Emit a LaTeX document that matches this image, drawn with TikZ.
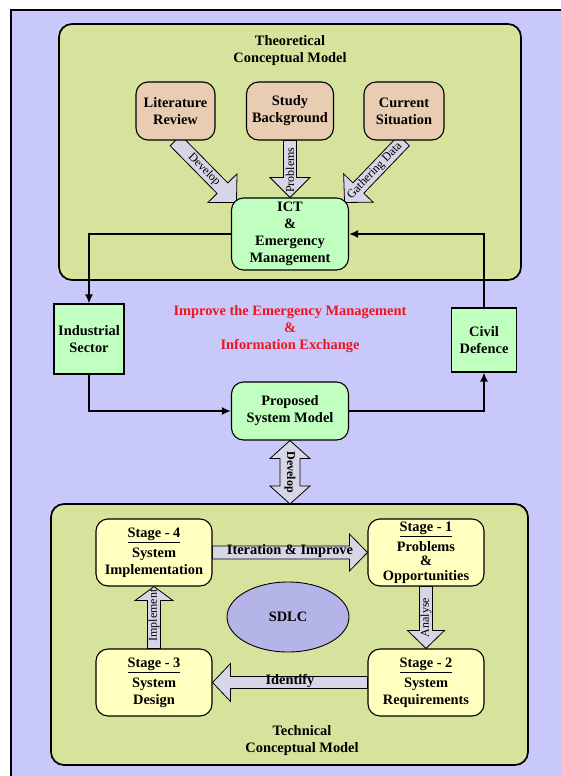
\documentclass[tikz,border=0pt]{standalone}
\usepackage{fontspec}
\setmainfont{Liberation Serif}
\usetikzlibrary{calc,arrows.meta,shapes.geometric,backgrounds}

\definecolor{lavbg}{RGB}{200,200,250}
\definecolor{olivebox}{RGB}{215,226,156}
\definecolor{tanbox}{RGB}{232,205,178}
\definecolor{mintbox}{RGB}{192,255,192}
\definecolor{creambox}{RGB}{255,255,192}
\definecolor{arrowgrey}{RGB}{214,214,230}
\definecolor{sdlcfill}{RGB}{180,180,232}
\definecolor{goalred}{RGB}{240,20,30}

\tikzset{
  bigfont/.style={font=\bfseries\fontsize{14.4}{17}\selectfont},
  container/.style={draw, line width=1.7pt, rounded corners=13pt, fill=olivebox},
  title/.style={bigfont, align=center},
  box/.style={draw, line width=1.1pt, inner sep=0pt, align=center, bigfont},
  topbox/.style={box, rounded corners=12pt, fill=tanbox, minimum height=58pt},
  greenbox/.style={box, rounded corners=12pt, fill=mintbox},
  sqbox/.style={box, fill=mintbox},
  stagebox/.style={box, rounded corners=12pt, fill=creambox, minimum width=116pt, minimum height=67pt},
  blockarrow/.style={draw, line width=0.8pt, fill=arrowgrey, line join=miter},
  arrowlabel/.style={inner sep=0pt, font=\fontsize{12}{14}\selectfont},
  boldlabel/.style={inner sep=0pt, bigfont},
  flow/.style={line width=1.6pt, -{Latex[length=9pt,width=8pt]}}
}

% block arrow: from, to, shaft half width, head half width, head length
\newcommand{\blockarrow}[5]{%
  \coordinate (ba-b) at ($(#2)!#5!(#1)$);
  \draw[blockarrow] ($(#1)!#3!90:(#2)$) -- ($(ba-b)!#3!90:(#2)$) -- ($(ba-b)!#4!90:(#2)$)
    -- (#2) -- ($(ba-b)!#4!-90:(#2)$) -- ($(ba-b)!#3!-90:(#2)$) -- ($(#1)!#3!-90:(#2)$) -- cycle;}
% same with a head at both ends
\newcommand{\doublearrow}[5]{%
  \coordinate (ba-a) at ($(#1)!#5!(#2)$);
  \coordinate (ba-b) at ($(#2)!#5!(#1)$);
  \draw[blockarrow] (#1) -- ($(ba-a)!#4!90:(#2)$) -- ($(ba-a)!#3!90:(#2)$) -- ($(ba-b)!#3!90:(#2)$)
    -- ($(ba-b)!#4!90:(#2)$) -- (#2) -- ($(ba-b)!#4!-90:(#2)$) -- ($(ba-b)!#3!-90:(#2)$)
    -- ($(ba-a)!#3!-90:(#2)$) -- ($(ba-a)!#4!-90:(#2)$) -- cycle;}

\begin{document}
\begin{tikzpicture}[x=1pt,y=-1pt]
\useasboundingbox (0,0) rectangle (561,776);
\begin{scope}[on background layer]
  \fill[lavbg] (11,10) rectangle (561,776);
  \draw[line width=2.7pt] (11,776) -- (11,10) -- (561,10); % outer frame
  \draw[container] (59,24) rectangle (521,280);
  \draw[container] (51,504) rectangle (528,765);
\end{scope}
\node[title] (theo) at (290,50.5) {Theoretical\\Conceptual Model};
\node[title] (tech) at (302,741) {Technical\\Conceptual Model};

% upper part
\foreach \cx/\w/\nm/\txt in {175.5/79/lit/{Literature\\Review},290/87/study/{Study\\Background},404/80/current/{Current\\Situation}}
  \node[topbox, minimum width=\w pt] (\nm) at (\cx,111) {\txt};
\node[greenbox, minimum width=117pt, minimum height=72pt] (ict) at (290,234) {ICT\\\&\\Emergency\\Management};
\node[sqbox, minimum width=70pt, minimum height=70pt] (ind) at (89,339) {Industrial\\Sector};
\node[sqbox, minimum width=64.5pt, minimum height=64pt] (civ) at (484,340) {Civil\\Defence};
\node[greenbox, minimum width=117pt, minimum height=58pt] (prop) at (290,411) {Proposed\\System Model};
\node[title, text=goalred] (goal) at (290,329.5) {Improve the Emergency Management\\\&\\Information Exchange};

% lower part
\node[stagebox] (s4) at (154,552.5) {\underline{Stage - 4}\\[3pt]System\\Implementation};
\node[stagebox, font=\bfseries\fontsize{14.4}{14.5}\selectfont] (s1) at (426,552.5) {\underline{Stage - 1}\\[3.5pt]Problems\\\&\\Opportunities};
\node[stagebox] (s3) at (154,682.5) {\underline{Stage - 3}\\[3pt]System\\Design};
\node[stagebox] (s2) at (426,682.5) {\underline{Stage - 2}\\[3pt]System\\Requirements};
\node[ellipse, draw, line width=0.9pt, fill=sdlcfill, minimum width=122pt, minimum height=70pt, inner sep=0pt, bigfont] (sdlc) at (288,617) {SDLC};

\coordinate (ictnw) at ($(ict.north west)+(5.5,5)$);
\coordinate (ictne) at ($(ict.north east)+(-4.5,5)$);
\coordinate (techtop) at (290,504);

% block arrows go under the boxes
\begin{scope}[on background layer]
  \blockarrow{lit.south}{ictnw}{7.5pt}{20.5pt}{20pt}
  \blockarrow{study.south}{ict.north}{6.5pt}{20pt}{20pt}
  \blockarrow{current.south}{ictne}{7.5pt}{20.5pt}{20pt}
  \doublearrow{prop.south}{techtop}{10pt}{20pt}{18pt}
  \blockarrow{s4.east}{s1.west}{6.5pt}{18.5pt}{18pt}
  \blockarrow{s1.south}{s2.north}{6.5pt}{18.5pt}{18pt}
  \blockarrow{s2.west}{s3.east}{6pt}{19pt}{18pt}
  \blockarrow{s3.north}{s4.south}{6.5pt}{19pt}{14pt}
\end{scope}
\node[arrowlabel, rotate=-45.7] (l-dev) at ($(lit.south)!0.47!(ictnw)$) {Develop};
\node[arrowlabel, rotate=90] (l-prob) at ($(study.south)!0.52!(ict.north)$) {Problems};
\node[arrowlabel, rotate=46.4] (l-gath) at ($(current.south)!0.49!(ictne)$) {Gathering Data};
\node[arrowlabel, font=\bfseries\fontsize{12}{14}\selectfont, rotate=-90] (l-dev2) at ($(prop.south)!0.5!(techtop)$) {Develop};
\node[boldlabel] (l-iter) at ($(s4.east)!0.5!(s1.west)+(0,-1)$) {Iteration \& Improve};
\node[arrowlabel, rotate=90] (l-anal) at ($(s1.south)!0.5!(s2.north)$) {Analyse};
\node[boldlabel] (l-ident) at ($(s2.west)!0.5!(s3.east)+(0,-2)$) {Identify};
\node[arrowlabel, rotate=90] (l-impl) at ($(s3.north)!0.53!(s4.south)$) {Implement};

% information loop
\draw[flow] (ict.west) -| (ind.north);
\draw[flow] (ind.south) |- (prop.west);
\draw[flow] (prop.east) -| (civ.south);
\draw[flow] (civ.north) |- (ict.east);
\end{tikzpicture}
\end{document}
